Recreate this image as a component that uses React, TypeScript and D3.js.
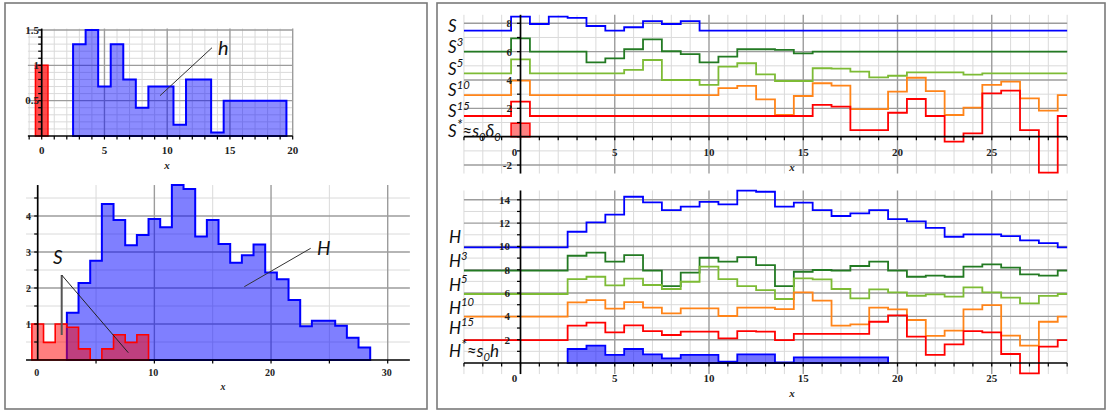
import React from "react";
import * as d3 from "d3";

// ---------- data: left panels ----------
// top-left: h (bins of width 1) and the delta spike at 0
const hBins = d3.range(3, 20);
const hVals = [1.3, 1.5, 0.7, 1.3, 0.8, 0.4, 0.7, 0.7, 0.16, 0.8, 0.8, 0.05, 0.5, 0.5, 0.5, 0.5, 0.5];
const deltaBins = [0];
const deltaVals = [1.0];

// bottom-left: H and S histograms
const bigHBins = d3.range(3, 29);
const bigHVals = [1.31, 2.14, 2.76, 4.33, 3.89, 3.19, 3.47, 3.92, 3.69, 4.86, 4.75, 3.43, 3.89,
  3.22, 2.7, 2.91, 3.21, 2.43, 2.24, 1.67, 0.94, 1.09, 1.09, 0.95, 0.62, 0.35];
const sBins = d3.range(0, 10);
const sVals = [1.0, 0.49, 1.0, 0.91, 0.31, 0, 0.31, 0.7, 0.49, 0.7];

// ---------- data: right panels ----------
// values for the steps between rightEdges: [-3,-0.5], then unit bins centred 0..28, then [28.5,29]
const rightEdges = [-3, ...d3.range(-0.5, 29, 1), 29];

const s1 = [7.48, 8.47, 7.95, 8.47, 8.38, 7.81, 7.48, 7.72, 8.16, 7.95, 8.16, 7.48, 7.48, 7.48, 7.48, 7.48,
  7.48, 7.48, 7.48, 7.48, 7.48, 7.48, 7.48, 7.48, 7.48, 7.48, 7.48, 7.48, 7.48, 7.48, 7.48];
const s3 = [6.0, 6.94, 6.0, 6.0, 6.0, 5.25, 5.53, 6.17, 6.87, 6.03, 5.82, 5.25, 5.65, 6.17, 6.17, 6.12,
  5.88, 6.0, 6.0, 6.0, 6.0, 6.0, 6.0, 6.0, 6.0, 6.0, 6.0, 6.0, 6.0, 6.0, 6.0];
const s5 = [4.47, 5.46, 4.47, 4.47, 4.47, 4.47, 4.47, 4.71, 5.41, 4.0, 4.0, 3.65, 4.94, 5.18, 4.4, 3.93,
  3.93, 4.83, 4.8, 4.59, 4.19, 4.3, 4.54, 4.54, 4.54, 4.38, 4.47, 4.47, 4.47, 4.47, 4.47];
const s10 = [2.94, 3.95, 2.94, 2.94, 2.94, 2.94, 2.94, 2.94, 2.94, 2.94, 2.94, 2.94, 3.42, 3.58, 2.64, 1.53,
  2.87, 3.77, 3.6, 1.95, 1.95, 3.18, 4.16, 3.22, 1.53, 2.05, 3.65, 3.88, 2.71, 1.84, 2.94];
const s15 = [1.46, 2.47, 1.46, 1.46, 1.46, 1.46, 1.46, 1.46, 1.46, 1.46, 1.46, 1.46, 1.46, 1.46, 1.46, 1.46,
  1.46, 2.24, 2.12, 0.47, 0.47, 1.69, 2.66, 1.46, -0.35, 0.24, 3.06, 3.25, 0.47, -2.54, 1.46];
const sStarVal = 0.95;

const H1 = [9.92, 9.92, 9.92, 9.92, 11.26, 12.06, 12.72, 14.26, 13.78, 13.12, 13.41, 13.83, 13.61, 14.78,
  14.69, 13.41, 13.75, 13.12, 12.61, 12.84, 13.12, 12.35, 12.15, 11.6, 10.83, 11.03, 11.03, 10.89, 10.52, 10.29, 9.92];
const H3 = [7.92, 7.92, 7.92, 7.92, 9.2, 9.46, 8.69, 9.26, 7.92, 6.6, 7.75, 9.03, 8.69, 9.09, 8.4, 6.6,
  7.83, 7.98, 7.92, 8.32, 8.69, 7.92, 7.4, 7.49, 7.4, 8.26, 8.46, 8.18, 7.6, 7.49, 7.92];
const H5 = [5.92, 5.92, 5.92, 5.92, 7.2, 7.4, 6.66, 7.23, 6.69, 6.35, 6.97, 8.26, 7.2, 6.6, 6.26, 5.49,
  7.26, 7.18, 6.35, 5.55, 6.32, 6.06, 5.77, 5.89, 5.69, 6.49, 6.06, 5.6, 5.12, 5.75, 5.92];
const H10 = [3.97, 3.97, 3.97, 3.97, 5.2, 5.4, 4.66, 5.23, 4.75, 4.26, 4.69, 4.69, 4.03, 4.75, 4.75, 4.63,
  6.06, 5.35, 3.2, 3.32, 4.75, 4.6, 3.69, 2.32, 2.77, 4.6, 4.97, 2.35, 1.49, 3.54, 3.97];
const H15 = [1.97, 1.97, 1.97, 1.97, 3.2, 3.46, 2.63, 3.23, 2.74, 2.4, 2.69, 2.69, 2.12, 2.74, 2.69, 1.97,
  2.49, 2.49, 2.49, 2.49, 3.54, 4.09, 2.26, 0.69, 1.6, 2.74, 2.63, 0.77, -0.89, 1.4, 1.97];
const hStarBins = d3.range(3, 20);
const hStarVals = [1.2, 1.49, 0.69, 1.2, 0.74, 0.4, 0.69, 0.69, 0.11, 0.74, 0.74, 0.06, 0.49, 0.49, 0.49, 0.49, 0.49];

const BLUE = "#0000ff", DGREEN = "#237a23", LGREEN = "#7dbb35", ORANGE = "#ff8419", RED = "#ff0000";

type Part = [string, "n" | "sup" | "sub"];
const topSeries: { vals: number[]; color: string; parts: Part[]; ly: number }[] = [
  { vals: s1, color: BLUE, parts: [["S", "n"]], ly: 31.5 },
  { vals: s3, color: DGREEN, parts: [["S", "n"], ["3", "sup"]], ly: 53 },
  { vals: s5, color: LGREEN, parts: [["S", "n"], ["5", "sup"]], ly: 74.5 },
  { vals: s10, color: ORANGE, parts: [["S", "n"], ["10", "sup"]], ly: 96 },
  { vals: s15, color: RED, parts: [["S", "n"], ["15", "sup"]], ly: 117 },
];
const bottomSeries: { vals: number[]; color: string; parts: Part[]; ly: number }[] = [
  { vals: H1, color: BLUE, parts: [["H", "n"]], ly: 242.5 },
  { vals: H3, color: DGREEN, parts: [["H", "n"], ["3", "sup"]], ly: 267 },
  { vals: H5, color: LGREEN, parts: [["H", "n"], ["5", "sup"]], ly: 290.5 },
  { vals: H10, color: ORANGE, parts: [["H", "n"], ["10", "sup"]], ly: 313.5 },
  { vals: H15, color: RED, parts: [["H", "n"], ["15", "sup"]], ly: 333.5 },
];

// ---------- scales ----------
const xTL = d3.scaleLinear().domain([0, 20]).range([41.7, 292.7]);
const yTL = d3.scaleLinear().domain([0, 1.5]).range([136, 30]);
const xBL = d3.scaleLinear().domain([0, 30]).range([37.7, 387.7]);
const yBL = d3.scaleLinear().domain([0, 4]).range([360, 216]);
const xR = d3.scaleLinear().domain([0, 25]).range([520.5, 991.75]);
const yTR = d3.scaleLinear().domain([0, 8]).range([136.7, 23.3]);
const yBR = d3.scaleLinear().domain([0, 14]).range([363, 199.8]);

type Sc = d3.ScaleLinear<number, number>;
const MINOR = "#dadada", MAJOR = "#9c9c9c";
const tickFont: any = { fontFamily: "'Liberation Serif', 'DejaVu Serif', serif", fontWeight: 700, fontSize: 11, fill: "#222" };
const noteFont: any = { fontFamily: "Lato, 'Open Sans', sans-serif", fontStyle: "italic", fill: "#111" };

function histPath(bins: number[], vals: number[], x: Sc, y: Sc) {
  const pts: [number, number][] = [[bins[0] - 0.5, 0]];
  bins.forEach((b, i) => { pts.push([b - 0.5, vals[i]], [b + 0.5, vals[i]]); });
  pts.push([bins[bins.length - 1] + 0.5, 0]);
  return d3.line()(pts.map(([a, b]) => [x(a), y(b)] as [number, number])) + "Z";
}

function stepPath(vals: number[], x: Sc, y: Sc) {
  const pts = rightEdges.map((e, i) => [x(e), y(vals[Math.min(i, vals.length - 1)])] as [number, number]);
  return d3.line().curve(d3.curveStepAfter)(pts) || "";
}

function Grid({ x, y, xExt, yExt, xMinor, xMajor, yMinor, yMajor }: any) {
  const xa = x(xExt[0]), xb = x(xExt[1]), ya = y(yExt[0]), yb = y(yExt[1]);
  return (
    <g>
      {xMinor.map((v: number) => <line key={"xm" + v} x1={x(v)} x2={x(v)} y1={ya} y2={yb} stroke={MINOR} />)}
      {yMinor.map((v: number) => <line key={"ym" + v} x1={xa} x2={xb} y1={y(v)} y2={y(v)} stroke={MINOR} />)}
      {xMajor.map((v: number) => <line key={"xM" + v} x1={x(v)} x2={x(v)} y1={ya} y2={yb} stroke={MAJOR} strokeWidth={1.4} />)}
      {yMajor.map((v: number) => <line key={"yM" + v} x1={xa} x2={xb} y1={y(v)} y2={y(v)} stroke={MAJOR} strokeWidth={1.4} />)}
    </g>
  );
}

function Axes({ x, y, xExt, yExt, xTicks, yTicks }: any) {
  const x0 = x(0), y0 = y(0);
  return (
    <g stroke="#000">
      <line x1={x(xExt[0])} x2={x(xExt[1])} y1={y0} y2={y0} strokeWidth={1.7} />
      <line x1={x0} x2={x0} y1={y(yExt[0])} y2={y(yExt[1])} strokeWidth={1.7} />
      {xTicks.map((v: number) => <line key={"xt" + v} x1={x(v)} x2={x(v)} y1={y0} y2={y0 + 3.5} strokeWidth={1.2} />)}
      {yTicks.map((v: number) => <line key={"yt" + v} x1={x0 - 3.5} x2={x0} y1={y(v)} y2={y(v)} strokeWidth={1.2} />)}
    </g>
  );
}

function MathLabel({ x, y, size, parts }: { x: number; y: number; size: number; parts: Part[] }) {
  let cur = 0;
  return (
    <text x={x} y={y} fontSize={size} {...noteFont}>
      {parts.map(([t, k], i) => {
        const target = k === "sup" ? -size * 0.42 : k === "sub" ? size * 0.22 : 0;
        const dy = target - cur;
        cur = target;
        const fs = k === "n" ? size : t === "*" ? size * 0.85 : size * 0.66;
        return <tspan key={i} dy={dy} fontSize={fs}>{t}</tspan>;
      })}
    </text>
  );
}

export default function App() {
  return (
    <svg width={1110} height={412} style={{ position: "absolute", left: 0, top: 0, background: "#fff" }}>
      {/* frames */}
      <rect x={5} y={3} width={422} height={406} fill="none" stroke="#7a7a7a" strokeWidth={1.6} />
      <rect x={437} y={3} width={668} height={406} fill="none" stroke="#7a7a7a" strokeWidth={1.6} />

      {/* ---- top-left ---- */}
      <Grid x={xTL} y={yTL} xExt={[-1.1, 20]} yExt={[0, 1.52]}
        xMinor={d3.range(-1, 20).filter(v => v % 5 !== 0)} xMajor={[5, 10, 15, 20]}
        yMinor={d3.range(1, 16).map(v => v / 10).filter(v => Math.round(v * 10) % 5 !== 0)} yMajor={[0.5, 1, 1.5]} />
      <path d={histPath(deltaBins, deltaVals, xTL, yTL)} fill="rgba(255,0,0,0.7)" stroke={RED} strokeWidth={1.5} />
      <path d={histPath(hBins, hVals, xTL, yTL)} fill="rgba(0,0,255,0.45)" stroke={BLUE} strokeWidth={2} />
      <Axes x={xTL} y={yTL} xExt={[-1.1, 20]} yExt={[0, 1.52]} xTicks={d3.range(-1, 21)} yTicks={d3.range(1, 16).map(v => v / 10)} />
      {[0.5, 1, 1.5].map(v => <text key={v} x={39} y={yTL(v) + 3.5} textAnchor="end" {...tickFont}>{v}</text>)}
      {[0, 5, 10, 15, 20].map(v => <text key={v} x={xTL(v)} y={154} textAnchor="middle" {...tickFont}>{v}</text>)}
      <text x={167} y={169} textAnchor="middle" {...tickFont} fontStyle="italic">x</text>
      <line x1={212} y1={47.7} x2={160} y2={95.7} stroke="#333" strokeWidth={1} />
      <text x={218} y={55} fontSize={20} {...noteFont}>h</text>

      {/* ---- bottom-left ---- */}
      <Grid x={xBL} y={yBL} xExt={[-1, 31.9]} yExt={[0, 4.86]}
        xMinor={[5, 15, 25]} xMajor={[10, 20, 30]}
        yMinor={[0.5, 1.5, 2.5, 3.5, 4.5]} yMajor={[1, 2, 3, 4]} />
      <path d={histPath(bigHBins, bigHVals, xBL, yBL)} fill="rgba(0,0,255,0.5)" stroke={BLUE} strokeWidth={2} />
      <path d={histPath(sBins, sVals, xBL, yBL)} fill="rgba(255,0,0,0.5)" stroke={RED} strokeWidth={1.6} />
      <Axes x={xBL} y={yBL} xExt={[-1, 31.9]} yExt={[0, 4.86]} xTicks={[5, 10, 15, 20, 25, 30]} yTicks={d3.range(1, 10).map(v => v / 2)} />
      {[1, 2, 3, 4].map(v => <text key={v} x={31} y={yBL(v) + 3.5} textAnchor="end" {...tickFont} fontSize={10}>{v}</text>)}
      {[0, 10, 20, 30].map(v => <text key={v} x={xBL(v) - 1} y={376} textAnchor="middle" {...tickFont} fontSize={10}>{v}</text>)}
      <text x={223} y={390} textAnchor="middle" {...tickFont} fontSize={10} fontStyle="italic">x</text>
      <line x1={61.7} y1={275} x2={61.7} y2={335} stroke="#555" strokeWidth={2} />
      <line x1={61.7} y1={275} x2={128.3} y2={352.7} stroke="#222" strokeWidth={1} />
      <text x={53} y={264} fontSize={19} {...noteFont}>S</text>
      <line x1={310.7} y1={248.3} x2={244.3} y2={286.7} stroke="#333" strokeWidth={1} />
      <text x={317} y={255} fontSize={19} {...noteFont}>H</text>

      {/* ---- top-right ---- */}
      <Grid x={xR} y={yTR} xExt={[-3, 29]} yExt={[-2.6, 8.6]}
        xMinor={d3.range(-3, 30).filter(v => v % 5 !== 0)} xMajor={[5, 10, 15, 20, 25]}
        yMinor={[-1, 1, 3, 5, 7]} yMajor={[-2, 2, 4, 6, 8]} />
      {topSeries.map((s, i) => <path key={i} d={stepPath(s.vals, xR, yTR)} fill="none" stroke={s.color} strokeWidth={1.8} />)}
      <path d={histPath([0], [sStarVal], xR, yTR)} fill="#ff8080" stroke={RED} strokeWidth={1.5} />
      <Axes x={xR} y={yTR} xExt={[-3, 29]} yExt={[-2.6, 8.6]} xTicks={d3.range(-3, 30)} yTicks={d3.range(-2, 9)} />
      {[8, 6, 4, 2, -2].map(v => <text key={v} x={512} y={yTR(v) + 4} textAnchor="end" {...tickFont}>{v}</text>)}
      {[0, 5, 10, 15, 20, 25].map(v => <text key={v} x={xR(v) - (v === 0 ? 6 : 0)} y={156} textAnchor="middle" {...tickFont}>{v}</text>)}
      <text x={792} y={171} textAnchor="middle" {...tickFont} fontStyle="italic">x</text>
      {topSeries.map((s, i) => <MathLabel key={i} x={448} y={s.ly} size={17} parts={s.parts} />)}
      <MathLabel x={448} y={137} size={17} parts={[["S", "n"], ["*", "sup"], ["≈s", "n"], ["0", "sub"], ["δ", "n"], ["0", "sub"]]} />

      {/* ---- bottom-right ---- */}
      <Grid x={xR} y={yBR} xExt={[-3, 29]} yExt={[-0.95, 14.8]}
        xMinor={d3.range(-3, 30).filter(v => v % 5 !== 0)} xMajor={[5, 10, 15, 20, 25]}
        yMinor={[1, 3, 5, 7, 9, 11, 13]} yMajor={[2, 4, 6, 8, 10, 12, 14]} />
      <path d={histPath(hStarBins, hStarVals, xR, yBR)} fill="rgba(0,0,255,0.55)" stroke={BLUE} strokeWidth={1.8} />
      {bottomSeries.map((s, i) => <path key={i} d={stepPath(s.vals, xR, yBR)} fill="none" stroke={s.color} strokeWidth={1.8} />)}
      <Axes x={xR} y={yBR} xExt={[-3, 29]} yExt={[-0.95, 14.8]} xTicks={d3.range(-3, 30)} yTicks={d3.range(1, 15)} />
      {[14, 12, 10, 8, 6, 4, 2].map(v => <text key={v} x={510} y={yBR(v) + 4} textAnchor="end" {...tickFont}>{v}</text>)}
      {[0, 5, 10, 15, 20, 25].map(v => <text key={v} x={xR(v) - (v === 0 ? 6 : 0)} y={382} textAnchor="middle" {...tickFont}>{v}</text>)}
      <text x={792} y={397} textAnchor="middle" {...tickFont} fontStyle="italic">x</text>
      {bottomSeries.map((s, i) => <MathLabel key={i} x={449} y={s.ly} size={17} parts={s.parts} />)}
      <MathLabel x={449} y={357} size={17} parts={[["H", "n"], ["*", "sup"], ["≈s", "n"], ["0", "sub"], ["h", "n"]]} />
    </svg>
  );
}
